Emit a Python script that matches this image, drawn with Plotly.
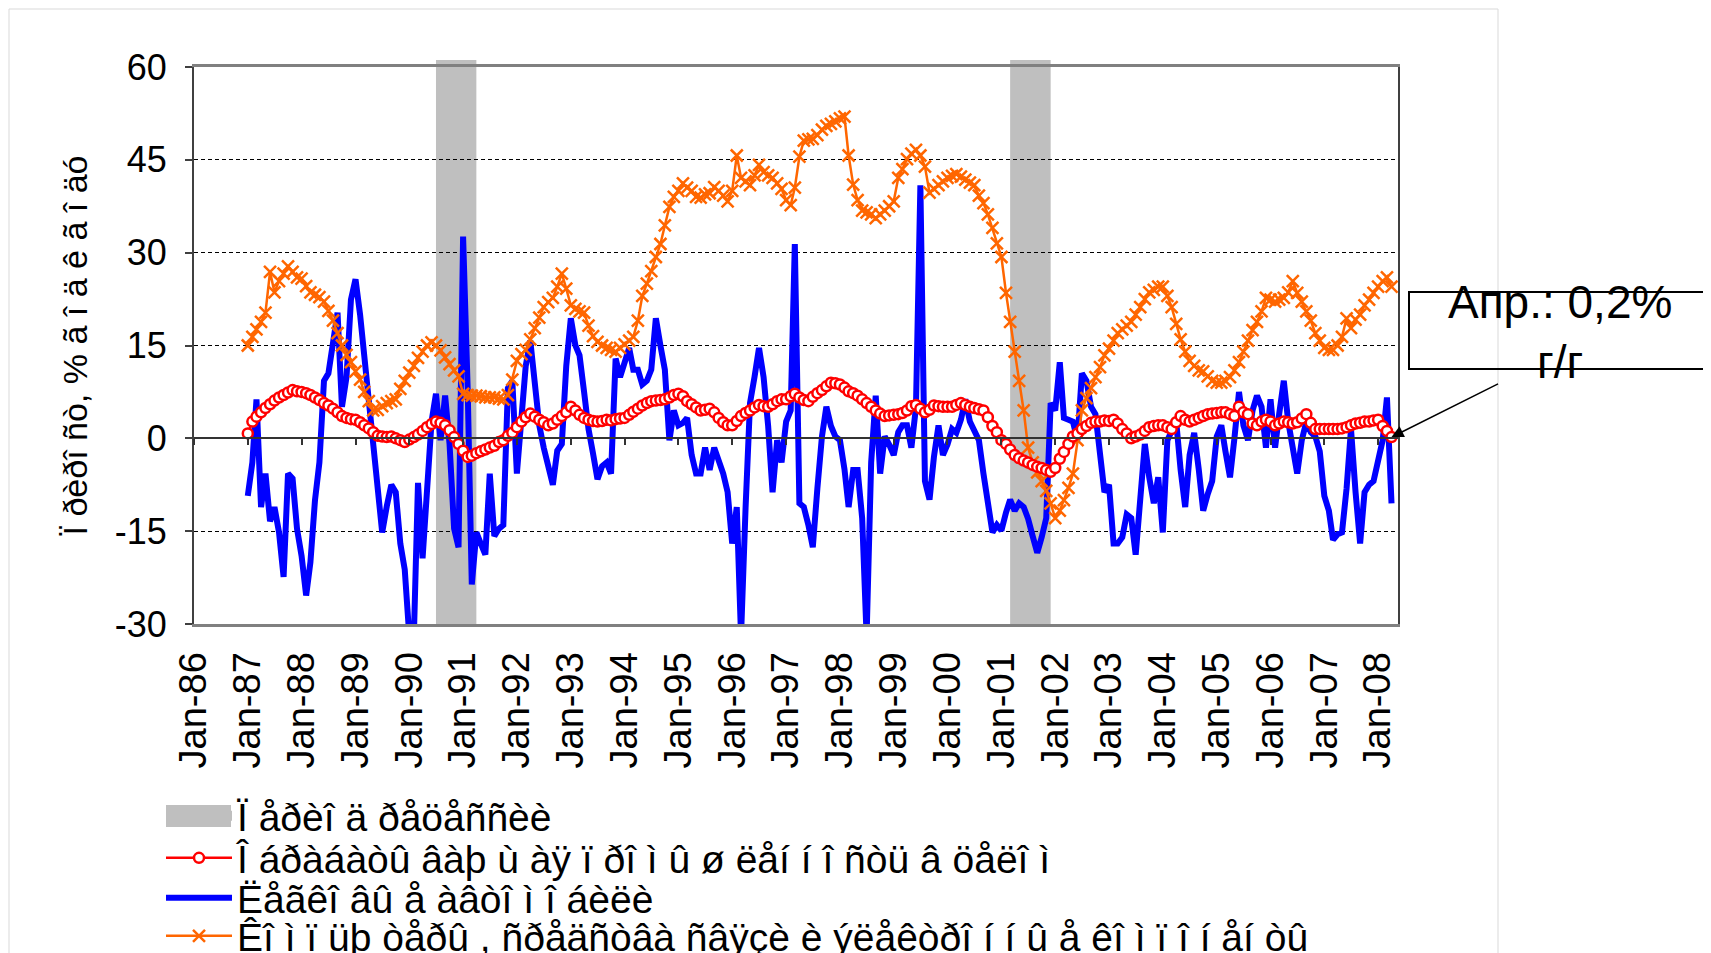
import pandas as pd
import plotly.graph_objects as go

# ---------------- data (monthly, Jan-1987 .. Apr-2008) ----------------
start_month = "1987-01-01"

manuf = [  # manufacturing total, % y/y
    0.8, 2.7, 3.5, 4.2, 4.9, 5.5, 6.1, 6.6, 7.0, 7.4, 7.8, 7.6,
    7.5, 7.3, 7.0, 6.6, 6.2, 5.7, 5.3, 4.8, 4.2, 3.6, 3.3, 3.1,
    3.0, 2.6, 2.1, 1.6, 1.0, 0.4, 0.3, 0.2, 0.3, 0.0, -0.3, -0.6,
    -0.2, 0.2, 0.6, 1.2, 1.8, 2.3, 2.7, 2.5, 2.1, 1.3, 0.2, -0.9,
    -2.0, -3.0, -2.8, -2.4, -2.1, -1.8, -1.5, -1.2, -0.6, -0.3, 0.4, 0.9,
    1.8, 2.7, 3.4, 4.0, 3.5, 3.0, 2.6, 2.1, 2.4, 3.0, 3.6, 4.2,
    5.1, 4.5, 3.8, 3.3, 3.0, 2.8, 2.7, 2.8, 3.0, 2.9, 3.1, 3.2,
    3.3, 3.8, 4.3, 4.8, 5.3, 5.7, 6.0, 6.1, 6.2, 6.3, 6.6, 7.0,
    7.2, 6.8, 6.0, 5.5, 5.0, 4.5, 4.6, 4.8, 4.2, 3.3, 2.6, 2.1,
    2.1, 2.8, 3.6, 4.1, 4.5, 5.0, 5.4, 5.2, 5.1, 5.5, 6.0, 6.3,
    6.3, 6.8, 7.2, 6.6, 6.2, 6.0, 6.7, 7.3, 7.8, 8.4, 9.0, 8.9,
    8.7, 8.2, 7.6, 7.3, 6.9, 6.3, 5.7, 5.1, 4.5, 4.0, 3.6, 3.7,
    3.8, 3.9, 4.1, 4.5, 5.2, 5.4, 4.8, 4.2, 4.6, 5.3, 5.2, 5.1,
    5.1, 5.1, 5.4, 5.7, 5.4, 5.1, 4.9, 4.7, 4.5, 3.4, 2.0, 1.0,
    -0.3, -0.9, -1.8, -2.7, -3.2, -3.6, -3.9, -4.3, -4.6, -4.8, -5.1, -5.4,
    -4.8, -3.3, -2.2, -0.9, 0.3, 0.8, 1.5, 2.0, 2.5, 2.7, 2.7, 2.9,
    2.8, 3.0, 2.4, 1.5, 0.8, 0.0, 0.3, 0.6, 1.2, 1.8, 2.0, 2.1,
    2.1, 1.8, 1.5, 2.6, 3.6, 3.0, 2.7, 3.0, 3.3, 3.6, 3.9, 4.0,
    4.1, 4.2, 4.2, 3.9, 3.6, 5.1, 4.2, 3.9, 2.4, 2.1, 2.7, 3.0,
    2.7, 2.1, 2.4, 2.7, 2.6, 2.4, 2.6, 3.2, 3.9, 2.5, 1.5, 1.5,
    1.5, 1.5, 1.5, 1.5, 1.6, 1.8, 2.1, 2.4, 2.5, 2.7, 2.7, 2.9,
    3.0, 2.0, 1.2, 0.2,
]

autos = [  # passenger cars, % y/y
    -9.3, -3.9, 6.3, -11.1, -5.7, -13.4, -11.1, -15.2, -22.4, -5.7, -6.5, -14.6,
    -19.0, -25.4, -20.0, -10.0, -3.9, 9.3, 10.5, 15.2, 20.3, 5.1, 9.9, 22.4,
    25.7, 20.0, 13.0, 6.3, -1.5, -9.9, -15.2, -11.0, -7.5, -8.7, -17.0, -21.2,
    -32.0, -32.0, -7.2, -19.4, -9.9, 2.7, 7.2, -0.3, 6.9, -0.9, -14.6, -17.6,
    32.6, 8.1, -23.6, -15.2, -17.0, -18.8, -5.7, -15.8, -14.6, -14.0, 8.1, 9.3,
    -5.7, 4.5, 11.7, 15.8, 8.0, 2.1, -1.5, -5.0, -7.5, -2.0, -0.9, 11.7,
    19.4, 15.0, 13.4, 7.5, 1.5, -2.5, -6.6, -4.5, -3.9, -5.7, 12.9, 9.9,
    12.0, 14.6, 11.1, 11.1, 8.7, 9.3, 11.1, 19.4, 15.0, 11.1, -0.3, 4.5,
    2.1, 2.5, 3.3, -2.7, -5.7, -5.7, -1.5, -5.1, -1.5, -3.5, -5.7, -8.7,
    -17.0, -11.1, -32.0, -11.1, 5.7, 10.0, 14.6, 9.9, 2.0, -8.7, -0.3, -3.9,
    2.7, 4.5, 31.4, -10.5, -11.1, -14.0, -17.6, -8.1, 0.3, 5.1, 2.0, 0.3,
    -0.3, -5.0, -11.1, -5.1, -5.1, -12.9, -32.0, -3.9, 6.9, -5.7, 0.3, -1.0,
    -2.7, 1.0, 2.1, 2.1, -1.5, 5.0, 40.9, -6.9, -9.9, -3.0, 2.1, -2.7,
    -1.0, 1.5, 0.9, 3.0, 6.3, 2.7, 1.0, -0.3, -5.7, -10.0, -15.2, -14.0,
    -14.9, -12.0, -9.9, -11.7, -10.5, -11.1, -13.0, -15.8, -18.5, -16.0, -12.9, 5.7,
    4.5, 12.3, 3.3, 3.0, 2.7, -0.3, 10.5, 9.3, 5.1, 3.9, -2.1, -8.7,
    -7.5, -17.0, -17.0, -16.0, -12.3, -12.9, -18.8, -9.9, -0.9, -6.3, -10.5, -6.3,
    -15.2, -0.3, 1.0, 2.7, -5.1, -11.1, -2.7, 0.9, -5.0, -11.7, -9.0, -6.9,
    0.3, 2.1, -2.1, -6.3, 0.0, 7.5, 2.1, -0.3, 4.5, 6.9, 5.1, -1.5,
    6.3, -1.5, 4.0, 9.3, 2.7, -2.0, -5.7, -0.3, 2.7, 1.0, 0.3, -2.1,
    -9.3, -11.7, -16.4, -15.5, -15.2, -8.1, 1.5, -8.7, -17.0, -8.7, -7.5, -6.9,
    -3.9, -0.3, 6.6, -10.5,
]

tech = [  # computers, communication equipment, electronics, % y/y
    15.0, 16.4, 17.6, 18.8, 20.3, 26.9, 23.6, 25.4, 26.6, 27.8, 26.9, 26.0,
    25.8, 24.6, 23.6, 23.2, 22.8, 22.1, 20.6, 19.0, 17.0, 15.0, 13.5, 12.3,
    10.8, 9.5, 7.5, 6.0, 4.5, 4.6, 5.2, 5.7, 6.0, 6.3, 8.0, 9.3,
    10.6, 11.7, 13.0, 14.0, 15.0, 15.5, 15.0, 14.2, 13.1, 12.0, 11.0, 10.0,
    7.2, 7.0, 6.9, 6.9, 6.8, 6.6, 6.6, 6.6, 6.4, 6.3, 7.0, 9.5,
    12.5, 13.6, 14.3, 16.0, 17.8, 19.5, 21.2, 22.0, 22.7, 24.5, 26.6, 24.2,
    21.5, 20.9, 20.5, 20.3, 18.2, 16.5, 15.6, 15.0, 14.6, 14.3, 14.0, 14.6,
    15.2, 15.8, 16.4, 19.0, 23.0, 25.0, 27.0, 29.3, 31.4, 34.4, 37.4, 39.0,
    40.0, 41.2, 40.5, 40.0, 39.0, 38.9, 39.4, 39.6, 40.6, 40.0, 39.2, 38.3,
    40.0, 45.7, 42.1, 41.5, 40.9, 42.5, 44.2, 43.0, 42.5, 42.1, 41.2, 40.3,
    38.5, 37.7, 40.5, 45.5, 48.1, 48.3, 48.4, 49.0, 49.9, 50.5, 50.8, 51.2,
    51.7, 52.0, 45.7, 41.0, 38.5, 36.8, 36.5, 36.2, 35.6, 36.2, 36.8, 37.5,
    38.3, 42.1, 43.5, 45.1, 46.0, 46.6, 45.7, 43.9, 39.7, 40.3, 40.9, 41.5,
    42.1, 42.4, 42.7, 42.3, 41.8, 41.3, 40.9, 39.2, 38.0, 36.2, 34.0, 31.5,
    29.3, 23.5, 18.8, 14.0, 9.3, 4.5, -1.5, -3.9, -5.5, -6.9, -8.5, -10.5,
    -12.9, -11.7, -10.0, -8.0, -5.7, -0.3, 4.5, 6.5, 8.1, 9.9, 11.5, 13.4,
    14.5, 15.8, 17.0, 17.6, 18.2, 18.8, 20.0, 21.2, 22.5, 23.6, 24.0, 24.5,
    24.5, 23.0, 21.2, 18.5, 16.0, 14.0, 12.5, 11.7, 11.0, 10.8, 10.0, 9.3,
    9.0, 9.0, 9.3, 9.9, 11.0, 12.3, 14.0, 15.8, 17.5, 18.8, 20.5, 22.7,
    22.4, 22.1, 22.4, 22.7, 23.6, 25.4, 23.5, 22.1, 20.5, 19.0, 17.0, 15.8,
    14.6, 14.3, 14.3, 15.0, 16.4, 19.4, 17.8, 19.2, 20.0, 21.5, 22.4, 23.5,
    24.5, 25.4, 26.0, 24.5,
]

rec_start = ["1990-07-01", "2001-03-01"]
rec_end = ["1991-04-01", "2001-12-01"]

x_range = ["1986-01-01", "2008-05-15"]
y_range = [-30, 60]
y_ticks = [-30, -15, 0, 15, 30, 45, 60]
y_ticktext = ["-30", "-15", "0", "15", "30", "45", "60"]

leg_rec = "Ï åðèî ä ðåöåññèè"
leg_manuf = "Î áðàáàòû âàþ ù àÿ ï ðî ì û ø ëåí í î ñòü â öåëî ì"
leg_auto = "Ëåãêî âû å àâòî ì î áèëè"
leg_tech = "Êî ì ï üþ òåðû , ñðåäñòâà ñâÿçè è ýëåêòðî í í û å êî ì ï î í åí òû"
y_title = "Ï ðèðî ñò, % ã î ä ê ã î äó"
note_text = "Апр.: 0,2%<br>г/г"

# ---------------- figure geometry ----------------
OFF = 8                      # page body margin of the html page
W, H = 1711 - OFF, 953 - OFF
L, T = 194 - OFF, 67 - OFF
R = W - (1398 - OFF)
B = H - (624 - OFF)
PW, PH = W - L - R, H - T - B


def px2paper_x(px):          # px = page pixel
    return (px - OFF - L) / PW


def px2paper_y(py):
    return (H - B - (py - OFF)) / PH


FONT = "Liberation Sans, Arial, sans-serif"
BAND = "#BFBFBF"
RED = "#FF0000"
BLUE = "#0000FF"
ORANGE = "#FF6600"

d_manuf = pd.date_range(start_month, periods=len(manuf), freq="MS")
d_autos = pd.date_range(start_month, periods=len(autos), freq="MS")
d_tech = pd.date_range(start_month, periods=len(tech), freq="MS")

fig = go.Figure()

# legend-only entry for the recession shading
fig.add_trace(go.Scatter(
    x=[None], y=[None], mode="lines", name=leg_rec,
    line=dict(color=BAND, width=10), legend="legend", hoverinfo="skip"))

fig.add_trace(go.Scatter(
    x=d_autos, y=autos, mode="lines", name=leg_auto,
    line=dict(color=BLUE, width=6), legend="legend3"))

fig.add_trace(go.Scatter(
    x=d_tech, y=tech, mode="lines+markers", name=leg_tech,
    line=dict(color=ORANGE, width=2.5),
    marker=dict(symbol="x-thin-open", size=12, color=ORANGE,
                line=dict(color=ORANGE, width=2.5)),
    legend="legend4"))

fig.add_trace(go.Scatter(
    x=d_manuf, y=manuf, mode="lines+markers", name=leg_manuf,
    line=dict(color=RED, width=2.5),
    marker=dict(symbol="circle", size=10, color="white",
                line=dict(color=RED, width=2.5)),
    legend="legend2"))

# helper trace for the zero-line axis with year ticks
fig.add_trace(go.Scatter(x=d_manuf[:1], y=[None], xaxis="x2", showlegend=False,
                         hoverinfo="skip"))

shapes = []
for s, e in zip(rec_start, rec_end):
    shapes.append(dict(type="rect", xref="x", yref="paper", x0=s, x1=e,
                       y0=0, y1=1 + 7 / PH, fillcolor=BAND, line=dict(width=0),
                       layer="below"))
# thicker swatch behind the recession legend symbol
shapes.append(dict(type="rect", xref="paper", yref="paper",
                   x0=px2paper_x(166), x1=px2paper_x(231),
                   y0=px2paper_y(827), y1=px2paper_y(805),
                   fillcolor=BAND, line=dict(width=0)))
# outer chart frame
shapes.append(dict(type="rect", xref="paper", yref="paper",
                   x0=px2paper_x(9), x1=px2paper_x(1498),
                   y0=px2paper_y(990), y1=px2paper_y(9),
                   line=dict(color="#D9D9D9", width=1), fillcolor="rgba(0,0,0,0)",
                   layer="below"))
# callout box
shapes.append(dict(type="rect", xref="paper", yref="paper",
                   x0=px2paper_x(1409), x1=px2paper_x(1740),
                   y0=px2paper_y(369), y1=px2paper_y(292),
                   line=dict(color="black", width=2), fillcolor="rgba(0,0,0,0)"))

annotations = [
    dict(xref="paper", yref="paper", x=px2paper_x(1560), y=px2paper_y(332),
         text=note_text, showarrow=False, font=dict(family=FONT, size=46, color="black"),
         xanchor="center", yanchor="middle", align="center"),
    dict(x=d_manuf[-1], y=manuf[-1], xref="x", yref="y", text="", showarrow=True,
         arrowhead=2, arrowsize=1.6, arrowwidth=1.5, arrowcolor="black",
         ax=108, ay=-54, standoff=0),
]

leg_common = dict(xanchor="left", yanchor="middle", bgcolor="rgba(0,0,0,0)",
                  font=dict(family=FONT, size=39, color="black"), itemwidth=66,
                  x=px2paper_x(161))

fig.update_layout(
    width=W, height=H,
    margin=dict(l=L, r=R, t=T, b=B, autoexpand=False),
    paper_bgcolor="white", plot_bgcolor="white",
    font=dict(family=FONT, color="black"),
    showlegend=True,
    legend=dict(leg_common, y=px2paper_y(816)),
    legend2=dict(leg_common, y=px2paper_y(858)),
    legend3=dict(leg_common, y=px2paper_y(898)),
    legend4=dict(leg_common, y=px2paper_y(936)),
    xaxis=dict(type="date", range=x_range, tickformat="%b-%y", dtick="M12",
               tick0="1986-01-01", tickangle=-90, ticks="", showgrid=False,
               tickfont=dict(family=FONT, size=38, color="black"),
               showline=True, linecolor="#808080", linewidth=3, mirror=True,
               zeroline=False, ticklabelstandoff=10, automargin=False),
    xaxis2=dict(type="date", range=x_range, overlaying="x", anchor="free",
                position=(0 - y_range[0]) / (y_range[1] - y_range[0]),
                dtick="M12", tick0="1986-01-01", ticks="outside", ticklen=6,
                tickwidth=1.5, tickcolor="#333333", showline=True,
                linecolor="#333333", linewidth=1.5, showticklabels=False,
                showgrid=False, zeroline=False),
    yaxis=dict(range=y_range, tickvals=y_ticks, ticktext=y_ticktext,
               ticks="outside", ticklen=7,
               tickwidth=2, tickcolor="#404040", showline=True,
               linecolor="#404040", linewidth=2, mirror=True,
               showgrid=True, gridcolor="black", gridwidth=1, griddash="4px,3px",
               zeroline=False, tickfont=dict(family=FONT, size=36, color="black"),
               ticklabelstandoff=11, automargin=False,
               title=dict(text=y_title, font=dict(family=FONT, size=34, color="black"),
                          standoff=17)),
    shapes=shapes,
    annotations=annotations,
)

fig.write_html("out.html")
